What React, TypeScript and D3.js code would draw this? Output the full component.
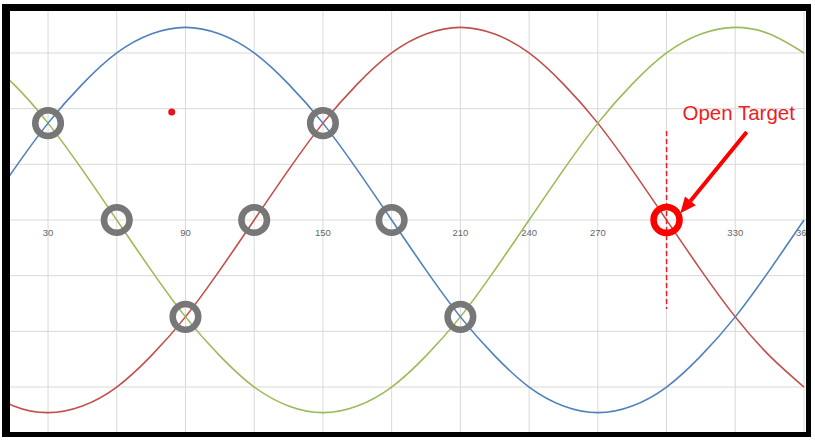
import React from "react"
import * as d3 from "d3"

// three phase waves, every 15 degrees
const degrees = [0, 15, 30, 45, 60, 75, 90, 105, 120, 135, 150, 165, 180, 195, 210, 225, 240, 255, 270, 285, 300, 315, 330, 345, 360]
const blueValues = [0, 0.45, 0.87, 1.22, 1.5, 1.67, 1.73, 1.67, 1.5, 1.22, 0.87, 0.45, 0, -0.45, -0.87, -1.22, -1.5, -1.67, -1.73, -1.67, -1.5, -1.22, -0.87, -0.45, 0]
const redValues = [-1.5, -1.67, -1.73, -1.67, -1.5, -1.22, -0.87, -0.45, 0, 0.45, 0.87, 1.22, 1.5, 1.67, 1.73, 1.67, 1.5, 1.22, 0.87, 0.45, 0, -0.45, -0.87, -1.22, -1.5]
const greenValues = [1.5, 1.22, 0.87, 0.45, 0, -0.45, -0.87, -1.22, -1.5, -1.67, -1.73, -1.67, -1.5, -1.22, -0.87, -0.45, 0, 0.45, 0.87, 1.22, 1.5, 1.67, 1.73, 1.67, 1.5]

const xGridTicks = [0, 30, 60, 90, 120, 150, 180, 210, 240, 270, 300, 330, 360]
const yGridTicks = [-2, -1.5, -1, -0.5, 0, 0.5, 1, 1.5, 2]
const xTickLabels = [30, 90, 150, 210, 240, 270, 330, 360]

// gray rings on the crossings
const ringDegrees = [30, 60, 90, 120, 150, 180, 210]
const ringValues = [0.87, 0, -0.87, 0, 0.87, 0, -0.87]

const targetPoint = { deg: 300, value: 0 }
const targetLine = { deg: 300, from: 0.8, to: -0.8 }
const strayDot = { deg: 84, value: 0.97 }
const arrowFrom = { deg: 335, value: 0.79 }
const arrowTo = { deg: 306, value: 0.06 }
const label = { deg: 331.5, value: 0.9, text: "Open Target" }

const W = 815
const H = 440
const inner = { left: 10, top: 11, right: 806, bottom: 432 }

export default function App() {
  const x = d3.scaleLinear().domain([0, 360]).range([-20.7, 804])
  const y = d3.scaleLinear().domain([-2, 2]).range([442.7, -2.7])

  const line = d3
    .line<number>()
    .x((_, i) => x(degrees[i]))
    .y((d) => y(d))
    .curve(d3.curveNatural)

  const series = [
    { values: redValues, color: "#c0504d" },
    { values: greenValues, color: "#9bbb59" },
    { values: blueValues, color: "#4f81bd" },
  ]

  const red = "#ee1d24"

  // arrow head
  const ax1 = x(arrowFrom.deg)
  const ay1 = y(arrowFrom.value)
  const ax2 = x(arrowTo.deg)
  const ay2 = y(arrowTo.value)
  const ang = Math.atan2(ay2 - ay1, ax2 - ax1)
  const headLen = 16
  const headW = 7
  const bx = ax2 - headLen * Math.cos(ang)
  const by = ay2 - headLen * Math.sin(ang)
  const head = [
    [ax2, ay2],
    [bx + headW * Math.sin(ang), by - headW * Math.cos(ang)],
    [bx - headW * Math.sin(ang), by + headW * Math.cos(ang)],
  ]

  return (
    <svg width={W} height={H} style={{ position: "absolute", left: 0, top: 0, background: "#fff" }}>
      <defs>
        <clipPath id="plot">
          <rect x={inner.left} y={inner.top} width={inner.right - inner.left} height={inner.bottom - inner.top} />
        </clipPath>
      </defs>
      <rect x={2} y={4} width={809} height={433} fill="#000" />
      <rect x={inner.left} y={inner.top} width={inner.right - inner.left} height={inner.bottom - inner.top} fill="#fff" />

      <g clipPath="url(#plot)">
        {xGridTicks.map((t) => (
          <line key={"vx" + t} x1={x(t)} x2={x(t)} y1={inner.top} y2={inner.bottom} stroke="#d9d9d9" strokeWidth={1} />
        ))}
        {yGridTicks.map((t) => (
          <line key={"hy" + t} x1={inner.left} x2={inner.right} y1={y(t)} y2={y(t)} stroke="#d9d9d9" strokeWidth={1} />
        ))}

        {xTickLabels.map((t) => (
          <text
            key={"lb" + t}
            x={x(t)}
            y={y(0) + 16}
            textAnchor="middle"
            fontFamily="Liberation Sans, Arial, sans-serif"
            fontSize={9.5}
            fill="#666666"
          >
            {t}
          </text>
        ))}

        {series.map((s, i) => (
          <path key={i} d={line(s.values) ?? ""} fill="none" stroke={s.color} strokeWidth={1.6} />
        ))}

        {ringDegrees.map((d, i) => (
          <circle key={"r" + d} cx={x(d)} cy={y(ringValues[i])} r={12.8} fill="none" stroke="#777777" strokeWidth={6.5} />
        ))}

        <line
          x1={x(targetLine.deg)}
          x2={x(targetLine.deg)}
          y1={y(targetLine.from)}
          y2={y(targetLine.to)}
          stroke={red}
          strokeWidth={1.5}
          strokeDasharray="5,3"
        />
        <circle cx={x(targetPoint.deg)} cy={y(targetPoint.value)} r={13} fill="none" stroke="#ff0000" strokeWidth={6.5} />

        <circle cx={x(strayDot.deg)} cy={y(strayDot.value)} r={3.5} fill="#e8131b" />

        <line x1={ax1} y1={ay1} x2={bx} y2={by} stroke="#ff0000" strokeWidth={4} />
        <polygon points={head.map((p) => p.join(",")).join(" ")} fill="#ff0000" />

        <text
          x={x(label.deg)}
          y={y(label.value)}
          textAnchor="middle"
          fontFamily="Liberation Sans, Arial, sans-serif"
          fontSize={20.5}
          fill={red}
        >
          {label.text}
        </text>
      </g>
    </svg>
  )
}
